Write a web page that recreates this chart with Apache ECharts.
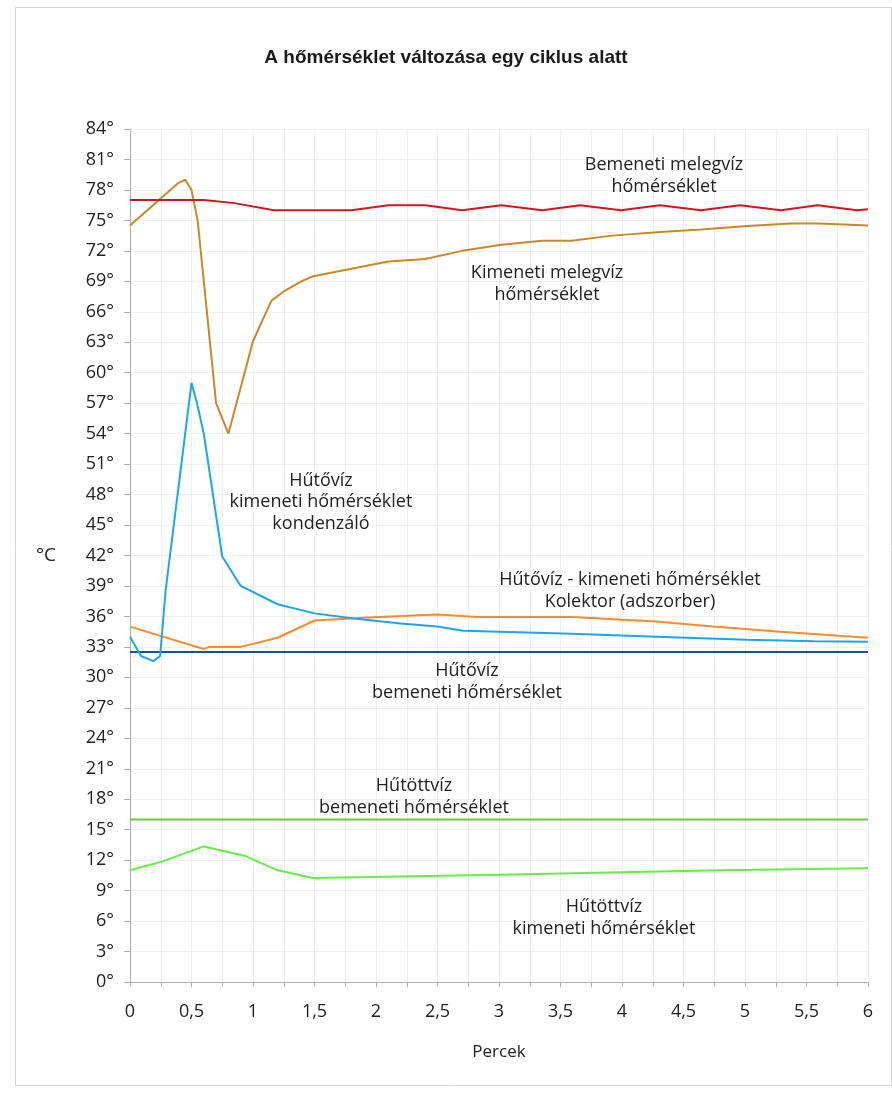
<!DOCTYPE html>
<html>
<head>
<meta charset="utf-8">
<script src="https://cdn.jsdelivr.net/npm/echarts@6/dist/echarts.min.js"></script>
<style>html,body{margin:0;padding:0;background:#fff}#c{width:892px;height:1093px}</style>
</head>
<body>
<div id="c"></div>
<script>
// ---- data (x in minutes, y in °C) ----
const titleText = 'A hőmérséklet változása egy ciklus alatt';
const xAxisName = 'Percek';
const yAxisName = '°C';

const inHotWater = [[0,77],[0.6,77],[0.85,76.7],[1.17,76],[1.8,76],[2.1,76.5],[2.4,76.5],[2.7,76],[3.02,76.5],[3.35,76],[3.66,76.5],[3.99,76],[4.31,76.5],[4.64,76],[4.96,76.5],[5.29,76],[5.59,76.5],[5.91,76],[6,76.1]];
const outHotWater = [[0,74.5],[0.395,78.7],[0.45,79.0],[0.5,78.0],[0.55,75.0],[0.7,57.0],[0.8,54.0],[1.0,63.1],[1.15,67.1],[1.25,68.0],[1.4,69.05],[1.49,69.5],[2.1,70.95],[2.4,71.2],[2.7,72.0],[3.02,72.6],[3.35,73.0],[3.59,73.0],[3.92,73.5],[4.31,73.85],[4.64,74.1],[5.02,74.45],[5.37,74.7],[5.6,74.7],[6,74.5]];
const coolOutCondenser = [[0,34.0],[0.09,32.1],[0.19,31.6],[0.245,32.1],[0.29,38.6],[0.5,59.0],[0.545,57.0],[0.6,54.0],[0.75,41.9],[0.9,39.0],[1.2,37.2],[1.5,36.3],[1.82,35.8],[2.2,35.3],[2.5,35.0],[2.71,34.6],[3.59,34.3],[4.28,34.0],[5.02,33.7],[5.56,33.55],[6,33.5]];
const coolOutCollector = [[0,35.0],[0.6,32.8],[0.65,33.0],[0.9,33.0],[1.2,33.9],[1.5,35.6],[1.93,35.9],[2.5,36.2],[2.82,35.95],[3.59,35.95],[4.28,35.5],[4.74,35.0],[5.29,34.5],[6,33.9]];
const coolIn = [[0,32.5],[6,32.5]];
const chilledIn = [[0,16],[6,16]];
const chilledOut = [[0,11.0],[0.27,11.9],[0.6,13.35],[0.94,12.4],[1.03,11.9],[1.2,11.0],[1.49,10.25],[3.0,10.55],[4.8,11.0],[6,11.2]];

const yMin = 0, yMax = 84, yStep = 3;
const xMin = 0, xMax = 6, xStep = 0.25;

// ---- annotations (text, center position in px) ----
const notes = [
  ['Bemeneti melegvíz\nhőmérséklet', 664, 176],
  ['Kimeneti melegvíz\nhőmérséklet', 547, 284],
  ['Hűtővíz\nkimeneti hőmérséklet\nkondenzáló', 321, 502],
  ['Hűtővíz - kimeneti hőmérséklet\nKolektor (adszorber)', 630, 591],
  ['Hűtővíz\nbemeneti hőmérséklet', 467, 682],
  ['Hűtöttvíz\nbemeneti hőmérséklet', 414, 797],
  ['Hűtöttvíz\nkimeneti hőmérséklet', 604, 918]
];

const FONT = '"Open Sans", "DejaVu Sans", sans-serif';
const chart = echarts.init(document.getElementById('c'), null, {renderer: 'canvas'});

function line(data, color, w) {
  return {type: 'line', data: data, symbol: 'none', smooth: false,
    lineStyle: {color: color, width: w || 2}, itemStyle: {color: color}, z: 3, silent: true};
}

const option = {
  backgroundColor: '#fff',
  animation: false,
  title: {text: titleText, left: 'center', top: 43,
    textStyle: {fontFamily: '"Liberation Sans", Arial, sans-serif', fontWeight: 'bold', fontSize: 19, color: '#1a1a1a'}},
  grid: {left: 130, right: 24, top: 129, bottom: 111, containLabel: false},
  xAxis: {
    type: 'value', min: xMin, max: xMax, interval: xStep,
    name: xAxisName, nameLocation: 'middle', nameGap: 62,
    nameTextStyle: {fontFamily: FONT, fontSize: 17, color: '#222'},
    axisLine: {show: true, lineStyle: {color: '#b0b0b0', width: 1}},
    axisTick: {show: true, length: 5, lineStyle: {color: '#b0b0b0'}},
    axisLabel: {margin: 21, fontFamily: FONT, fontSize: 18, color: '#222',
      formatter: function (v) {
        if (Math.abs(v * 2 - Math.round(v * 2)) > 1e-6) return '';
        return String(v).replace('.', ',');
      }},
    splitLine: {show: true, lineStyle: {color: '#efefef', width: 1}}
  },
  yAxis: {
    type: 'value', min: yMin, max: yMax, interval: yStep,
    name: yAxisName, nameLocation: 'middle', nameGap: 74, nameRotate: 0,
    nameTextStyle: {fontFamily: FONT, fontSize: 19, color: '#222'},
    axisLine: {show: true, lineStyle: {color: '#b0b0b0', width: 1}},
    axisTick: {show: true, length: 6, lineStyle: {color: '#b0b0b0'}},
    axisLabel: {margin: 16, fontFamily: FONT, fontSize: 18, color: '#222',
      formatter: function (v) { return v + '°'; }},
    splitLine: {show: true, lineStyle: {color: '#efefef', width: 1}}
  },
  series: [
    line(chilledIn, '#74c44a', 2),
    line(chilledOut, '#66ee44', 2),
    line(coolIn, '#1d4e9e', 2),
    line(coolOutCollector, '#ff8a30', 2),
    line(coolOutCondenser, '#1aa6f0', 2),
    line(outHotWater, '#c8892a', 2),
    line(inHotWater, '#d7141c', 2)
  ],
  graphic: [
    {type: 'rect', shape: {x: 15.5, y: 7.5, width: 876, height: 1078}, silent: true,
      style: {fill: 'none', stroke: '#d4d4d4', lineWidth: 1}, z: 0}
  ].concat(notes.map(function (n) {
    return {type: 'text', x: n[1], y: n[2], silent: true, z: 10,
      style: {text: n[0], fontFamily: FONT, fontSize: 18, fill: '#222',
        align: 'center', verticalAlign: 'middle', lineHeight: 21.5}};
  }))
};
chart.setOption(option);
</script>
</body>
</html>
